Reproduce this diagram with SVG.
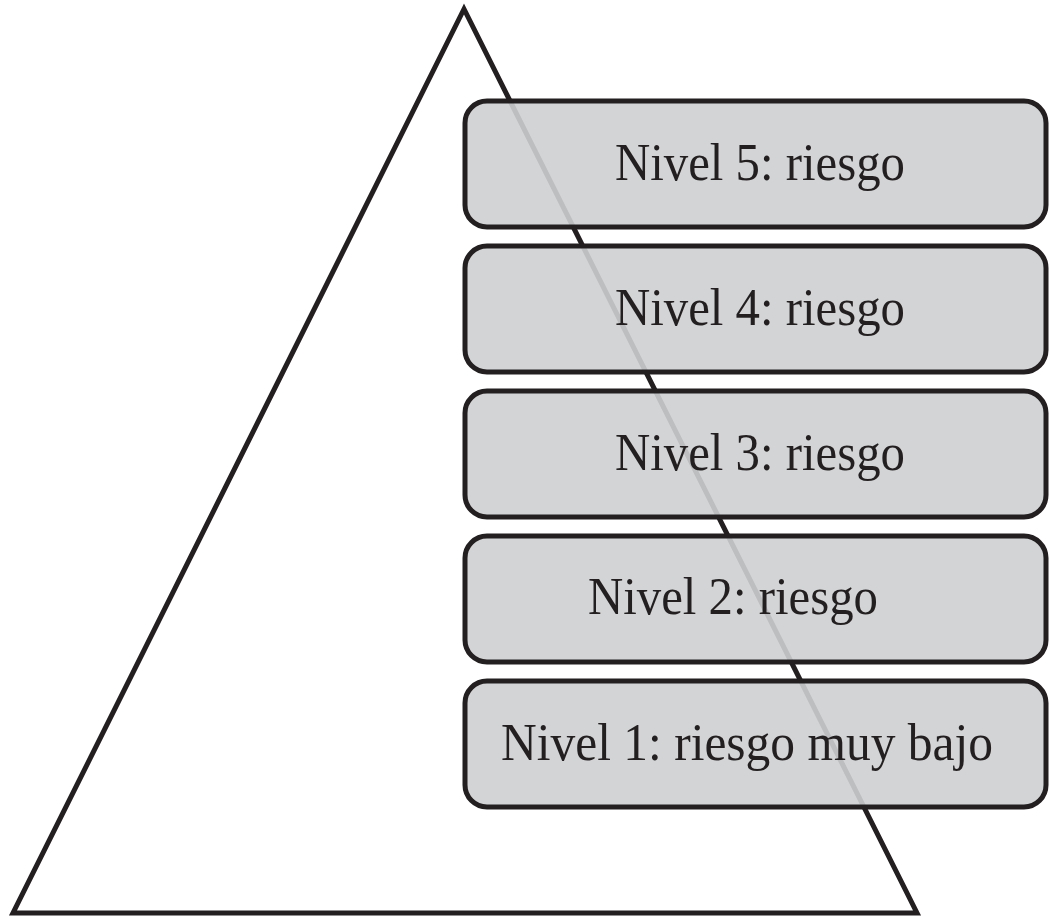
<svg xmlns="http://www.w3.org/2000/svg" width="1050" height="918" viewBox="0 0 1050 918">
<style>
.box{fill:rgb(206,207,209);fill-opacity:0.9;stroke:#231f20;stroke-width:5}
.lbl{font-family:"Liberation Serif","DejaVu Serif",serif;font-size:52px;fill:#231f20}
</style>
<rect width="1050" height="918" fill="#ffffff"/>
<g id="pyramid">
<polygon points="464,9 13,913 917,913" fill="none" stroke="#231f20" stroke-width="5" stroke-linejoin="miter"/>
</g>
<g id="nivel5"><rect class="box" x="465" y="101" width="581" height="126" rx="22"/><text class="lbl" x="615" y="180" textLength="290" lengthAdjust="spacingAndGlyphs">Nivel 5: riesgo</text></g>
<g id="nivel4"><rect class="box" x="465" y="246" width="581" height="126" rx="22"/><text class="lbl" x="615" y="325" textLength="290" lengthAdjust="spacingAndGlyphs">Nivel 4: riesgo</text></g>
<g id="nivel3"><rect class="box" x="465" y="391" width="581" height="126" rx="22"/><text class="lbl" x="615" y="470" textLength="290" lengthAdjust="spacingAndGlyphs">Nivel 3: riesgo</text></g>
<g id="nivel2"><rect class="box" x="465" y="536" width="581" height="126" rx="22"/><text class="lbl" x="588" y="614" textLength="290" lengthAdjust="spacingAndGlyphs">Nivel 2: riesgo</text></g>
<g id="nivel1"><rect class="box" x="465" y="681" width="581" height="126" rx="22"/><text class="lbl" x="501" y="760" textLength="492" lengthAdjust="spacingAndGlyphs">Nivel 1: riesgo muy bajo</text></g>
<g id="connectors"></g>
</svg>
